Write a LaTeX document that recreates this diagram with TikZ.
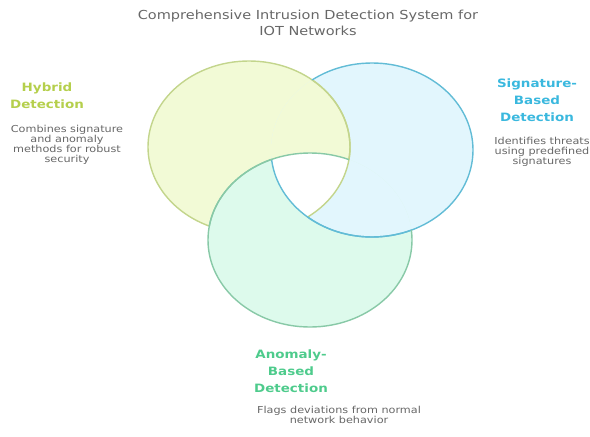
\documentclass[tikz,border=0pt]{standalone}
\usepackage{fontspec}
\usepackage{graphicx}
\setmainfont{DejaVu Sans}
\definecolor{yfill}{HTML}{F2FAD6}
\definecolor{ystroke}{HTML}{C3D58C}
\definecolor{bfill}{HTML}{E2F6FD}
\definecolor{bstroke}{HTML}{62BCD6}
\definecolor{gfill}{HTML}{DDFAEC}
\definecolor{gstroke}{HTML}{88C9A7}
\definecolor{yhead}{HTML}{B5CF4C}
\definecolor{bhead}{HTML}{3AB8DE}
\definecolor{ghead}{HTML}{4ECB8C}
\definecolor{txtgray}{HTML}{676767}
\newcommand\widetxt[1]{\scalebox{1.17}[1]{\begin{tabular}{@{}c@{}}#1\end{tabular}}}
\tikzset{
  Yell/.style={insert path={(249,147) ellipse [x radius=101pt, y radius=86pt]}},
  Bell/.style={insert path={(372,150) ellipse [x radius=101pt, y radius=87pt]}},
  Gell/.style={insert path={(310,240) ellipse [x radius=102pt, y radius=87pt]}},
  outer/.style={insert path={(-20,-20) -- (610,-20) -- (610,457) -- (-20,457) -- cycle}},
  ring/.style={line width=1.4pt},
  head/.style={inner sep=0pt, font=\fontsize{11.5}{17}\selectfont\bfseries},
  desc/.style={inner sep=0pt, text=txtgray, font=\fontsize{9.6}{9.2}\selectfont},
  ttl/.style={inner sep=0pt, text=txtgray, font=\fontsize{12.4}{16}\selectfont},
}
\begin{document}
\begin{tikzpicture}[x=1pt,y=-1pt]
\useasboundingbox (0,0) rectangle (590,437);
% base fills
\fill[yfill, Yell];
\fill[bfill, Bell];
\fill[gfill, Gell];
% interlocking overlaps
\begin{scope}\clip[Bell]; \fill[yfill, Yell]; \end{scope}
\begin{scope}\clip[Yell]; \fill[gfill, Gell]; \end{scope}
\begin{scope}\clip[Gell]; \fill[bfill, Bell]; \end{scope}
\begin{scope}\clip[Yell]; \clip[Bell]; \fill[white, Gell]; \end{scope}
% yellow outline: hidden in G minus B
\begin{scope}\clip[Bell]; \draw[ring, ystroke, Yell]; \end{scope}
\begin{scope}\clip[Gell, outer]; \draw[ring, ystroke, Yell]; \end{scope}
% blue outline: hidden in Y minus G
\begin{scope}\clip[Gell]; \draw[ring, bstroke, Bell]; \end{scope}
\begin{scope}\clip[Yell, outer]; \draw[ring, bstroke, Bell]; \end{scope}
% green outline: hidden in B minus Y
\begin{scope}\clip[Yell]; \draw[ring, gstroke, Gell]; \end{scope}
\begin{scope}\clip[Bell, outer]; \draw[ring, gstroke, Gell]; \end{scope}
% texts
\node[ttl] (title) at (308,24) {\widetxt{Comprehensive Intrusion Detection System for\\IOT Networks}};
\node[head, text=yhead] (hybh) at (47,96.5) {\widetxt{Hybrid\\Detection}};
\node[desc] (hybd) at (67,145.5) {\widetxt{Combines signature\\and anomaly\\methods for robust\\security}};
\node[head, text=bhead] (sigh) at (537,101) {\widetxt{Signature-\\Based\\Detection}};
\node[desc] (sigd) at (542,152) {\widetxt{Identifies threats\\using predefined\\signatures}};
\node[head, text=ghead] (anoh) at (291,372.5) {\widetxt{Anomaly-\\Based\\Detection}};
\node[desc] (anod) at (339,416.5) {\widetxt{Flags deviations from normal\\network behavior}};
\end{tikzpicture}
\end{document}
